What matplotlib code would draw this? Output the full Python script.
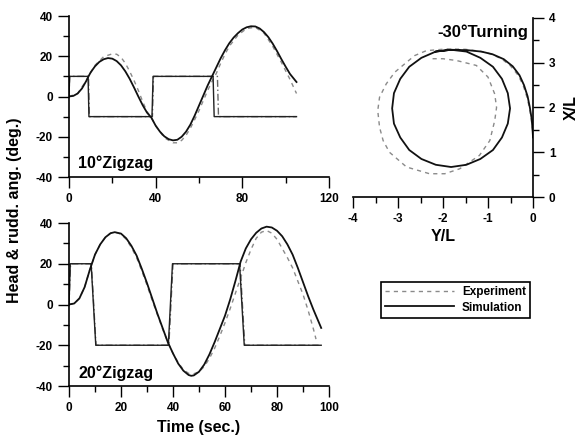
import matplotlib.pyplot as plt
from matplotlib.ticker import MultipleLocator
from matplotlib.lines import Line2D

plt.rcParams['font.family'] = ['Liberation Sans', 'DejaVu Sans']
plt.rcParams['font.weight'] = 'bold'
plt.rcParams['axes.unicode_minus'] = False

# 10 deg zigzag: heading (deg) vs time (sec)
z10_sim_t = [0, 2, 4, 6, 8, 9, 10, 12, 14, 16, 18, 20, 22, 24, 26, 28, 30, 32, 34, 36, 38,
             40, 42, 44, 46, 48, 50, 52, 54, 56, 58, 60, 62, 64, 66, 68, 70, 72, 74, 76,
             78, 80, 82, 84, 86, 88, 90, 92, 94, 96, 98, 100, 102, 105]
z10_sim_h = [0, 0.3, 1.5, 4, 7.8, 10, 12, 15, 17.2, 18.5, 19.1, 18.8, 17.6, 15.5, 12.5, 8.8,
             4.5, 0, -4.3, -8, -10.5, -14.5, -17.5, -19.8, -21.2, -21.8, -21.5, -20, -17.5,
             -14, -9.5, -4.5, 0.5, 5.5, 10, 14.5, 19, 23, 26.5, 29.3, 31.5, 33.3, 34.4, 34.9,
             34.8, 33.8, 32, 29.5, 26.3, 22.6, 18.6, 14.8, 11.2, 7.2]
z10_exp_t = [0, 4, 8, 9, 12, 16, 20, 22, 24, 26, 28, 30, 32, 34, 36, 38, 40, 44, 48, 50, 52,
             54, 56, 58, 60, 62, 64, 66, 68, 70, 72, 74, 78, 82, 86, 90, 94, 98, 102, 105]
z10_exp_h = [0, 1.5, 8, 10, 15.5, 19.8, 21.2, 21, 19.5, 16.5, 12.5, 8, 3, -2.5, -7.5, -10.5,
             -14.5, -20.5, -23, -23, -21.8, -19.3, -15.8, -11.5, -7, -2, 3, 7.5, 11.5, 16.5,
             21, 25, 30.5, 33.8, 34.4, 31.5, 25, 17, 8.5, 1.5]
z10_sim_rt = [0, 0.3, 8.8, 9.2, 38.3, 38.8, 66.5, 67.0, 105]
z10_exp_rt = [0, 0.3, 9.0, 9.4, 38.5, 39.0, 68.5, 69.0, 105]
z10_rudd = [0, 10, 10, -10, -10, 10, 10, -10, -10]

# 20 deg zigzag
z20_sim_t = [0, 2, 4, 6, 8, 10, 12, 14, 16, 17.6, 20, 22, 24, 26, 28, 30, 32, 34, 36, 38,
             40, 42, 44, 46, 47, 48, 50, 52, 54, 56, 58, 60, 62, 64, 66, 68, 70, 72, 74, 76,
             78, 80, 82, 84, 86, 88, 90, 92, 94, 96, 97]
z20_sim_h = [0, 0.5, 3, 8.5, 17, 24.5, 29.5, 33, 35, 35.5, 34.8, 32.5, 28.8, 24, 17.5, 10.5,
             3, -4.5, -11.5, -18.5, -24, -29, -32.5, -34.6, -35, -34.8, -33, -29.5, -24.5,
             -18.5, -12, -5.5, 2.5, 11.5, 21, 27.5, 32, 35.2, 37.3, 38.2, 37.8, 36.2, 33.5,
             29.5, 24.5, 18, 11, 4, -2.5, -8.5, -11.5]
z20_exp_t = [0, 2, 4, 6, 8, 10, 12, 14, 16, 18, 20, 22, 24, 26, 28, 30, 32, 34, 36, 38, 40,
             42, 44, 46, 48, 50, 52, 54, 56, 58, 60, 62, 64, 66, 68, 70, 72, 74, 76, 78, 80,
             82, 84, 86, 88, 90, 92, 94, 95]
z20_exp_h = [0, 0.5, 3, 8.5, 17, 24.5, 29.5, 33, 35, 35.4, 34.5, 32, 28, 23, 16.5, 9.5, 2,
             -5, -12, -18.5, -24, -28.5, -32, -33.8, -34, -33, -30.5, -26.5, -21.5, -15.5,
             -9, -2, 5.5, 13, 20.5, 27, 32.5, 35.5, 36.3, 35, 32, 27.5, 23, 18, 11.5, 5,
             -3, -12, -17]
z20_sim_rt = [0, 0.5, 8.5, 10.3, 38.2, 39.8, 65.6, 67.4, 97]
z20_exp_rt = [0, 0.6, 8.6, 10.4, 38.4, 40.0, 65.8, 67.6, 96]
z20_rudd = [0, 20, 20, -20, -20, 20, 20, -20, -20]

# -30 deg turning circle, track in ship lengths
turn_sim_y = [0, -0.01, -0.03, -0.07, -0.12, -0.2, -0.3, -0.45, -0.65, -0.9, -1.15, -1.45,
              -1.82, -2.16, -2.48, -2.75, -2.95, -3.09, -3.13, -3.09, -2.95, -2.75, -2.48,
              -2.16, -1.82, -1.48, -1.17, -0.89, -0.69, -0.56, -0.51, -0.56, -0.69, -0.89,
              -1.17, -1.48, -1.82, -2.16]
turn_sim_x = [1.34, 1.5, 1.75, 2.0, 2.25, 2.5, 2.72, 2.92, 3.08, 3.19, 3.25, 3.28, 3.29, 3.25,
              3.11, 2.91, 2.64, 2.32, 1.98, 1.64, 1.33, 1.05, 0.85, 0.72, 0.67, 0.72, 0.85,
              1.05, 1.33, 1.64, 1.98, 2.32, 2.64, 2.91, 3.11, 3.25, 3.29, 3.25]
turn_exp_y = [0, -0.01, -0.04, -0.08, -0.14, -0.22, -0.33, -0.5, -0.7, -0.95, -1.2, -1.5,
              -1.9, -2.37, -2.63, -2.81, -3.07, -3.26, -3.41, -3.45, -3.41, -3.33, -3.19,
              -2.81, -2.3, -1.96, -1.63, -1.19, -0.96, -0.85, -0.81, -0.85, -1.0, -1.26,
              -1.7, -2.0, -2.3]
turn_exp_x = [1.3, 1.5, 1.75, 2.0, 2.25, 2.5, 2.72, 2.93, 3.09, 3.2, 3.26, 3.3, 3.31, 3.27,
              3.16, 3.01, 2.79, 2.53, 2.23, 1.93, 1.56, 1.26, 1.0, 0.67, 0.52, 0.52, 0.63,
              0.93, 1.26, 1.71, 2.0, 2.3, 2.68, 2.94, 3.05, 3.09, 3.09]

sim_kw = dict(color='#111111', lw=1.3)
exp_kw = dict(color='#8a8a8a', lw=1.0, ls=(0, (3, 3)))
rexp_kw = dict(color='#666666', lw=1.0, ls=(0, (5, 2, 1, 2)))
rsim_kw = dict(color='#222222', lw=1.0)


def style(ax):
    ax.tick_params(which='major', length=8, width=1, direction='out', labelsize=8.5)
    ax.tick_params(which='minor', length=4.5, width=1, direction='out')
    for s in ax.spines.values():
        s.set_linewidth(1.2)
    for lab in ax.get_xticklabels() + ax.get_yticklabels():
        lab.set_fontweight('bold')


fig = plt.figure(figsize=(5.8, 4.44), dpi=100)

# top-left: 10 deg zigzag
ax1 = fig.add_axes([69 / 580, 1 - 177 / 444, 260 / 580, 161 / 444])
ax1.plot(z10_exp_rt, z10_rudd, **rexp_kw)
ax1.plot(z10_exp_t, z10_exp_h, **exp_kw)
ax1.plot(z10_sim_rt, z10_rudd, **rsim_kw)
ax1.plot(z10_sim_t, z10_sim_h, **sim_kw)
ax1.set_xlim(0, 120)
ax1.set_ylim(-40, 40)
ax1.xaxis.set_major_locator(MultipleLocator(40))
ax1.xaxis.set_minor_locator(MultipleLocator(20))
ax1.yaxis.set_major_locator(MultipleLocator(20))
ax1.yaxis.set_minor_locator(MultipleLocator(10))
ax1.spines['top'].set_visible(False)
ax1.spines['right'].set_visible(False)
ax1.text(4, -35.5, '10°Zigzag', fontsize=11.5, fontweight='bold')
style(ax1)

# bottom-left: 20 deg zigzag
ax2 = fig.add_axes([69 / 580, 1 - 386 / 444, 260 / 580, 163 / 444])
ax2.plot(z20_exp_rt, z20_rudd, **rexp_kw)
ax2.plot(z20_exp_t, z20_exp_h, **exp_kw)
ax2.plot(z20_sim_rt, z20_rudd, **rsim_kw)
ax2.plot(z20_sim_t, z20_sim_h, **sim_kw)
ax2.set_xlim(0, 100)
ax2.set_ylim(-40, 40)
ax2.xaxis.set_major_locator(MultipleLocator(20))
ax2.xaxis.set_minor_locator(MultipleLocator(10))
ax2.yaxis.set_major_locator(MultipleLocator(20))
ax2.yaxis.set_minor_locator(MultipleLocator(10))
ax2.spines['top'].set_visible(False)
ax2.spines['right'].set_visible(False)
ax2.text(3.5, -36, '20°Zigzag', fontsize=11.5, fontweight='bold')
ax2.set_xlabel('Time (sec.)', fontsize=11.5, fontweight='bold', labelpad=4)
style(ax2)

fig.text(15 / 580, 1 - 210 / 444, 'Head & rudd. ang. (deg.)', rotation=90,
         ha='center', va='center', fontsize=11.5, fontweight='bold')

# right: turning circle
ax3 = fig.add_axes([353 / 580, 1 - 197 / 444, 180 / 580, 179 / 444])
ax3.plot(turn_exp_y, turn_exp_x, **exp_kw)
ax3.plot(turn_sim_y, turn_sim_x, **sim_kw)
ax3.set_xlim(-4, 0)
ax3.set_ylim(0, 4)
ax3.xaxis.set_major_locator(MultipleLocator(1))
ax3.xaxis.set_minor_locator(MultipleLocator(0.5))
ax3.yaxis.set_major_locator(MultipleLocator(1))
ax3.yaxis.set_minor_locator(MultipleLocator(0.5))
ax3.yaxis.tick_right()
ax3.yaxis.set_label_position('right')
ax3.spines['top'].set_visible(False)
ax3.spines['left'].set_visible(False)
ax3.text(-0.1, 3.58, '-30°Turning', ha='right', fontsize=12, fontweight='bold')
ax3.set_xlabel('Y/L', fontsize=11.5, fontweight='bold', labelpad=3)
ax3.set_ylabel('X/L', fontsize=11.5, fontweight='bold', labelpad=6)
style(ax3)

handles = [Line2D([], [], **exp_kw), Line2D([], [], **sim_kw)]
leg = fig.legend(handles, ['Experiment', 'Simulation'], loc='upper left',
                 bbox_to_anchor=(375 / 580, 1 - 276 / 444),
                 prop={'weight': 'bold', 'size': 8.5}, handlelength=5.8, borderpad=0.35,
                 labelspacing=0.3, handletextpad=0.7, fancybox=False, framealpha=1,
                 edgecolor='black')
leg.get_frame().set_linewidth(1.2)

fig.savefig('out.png', dpi=100)
